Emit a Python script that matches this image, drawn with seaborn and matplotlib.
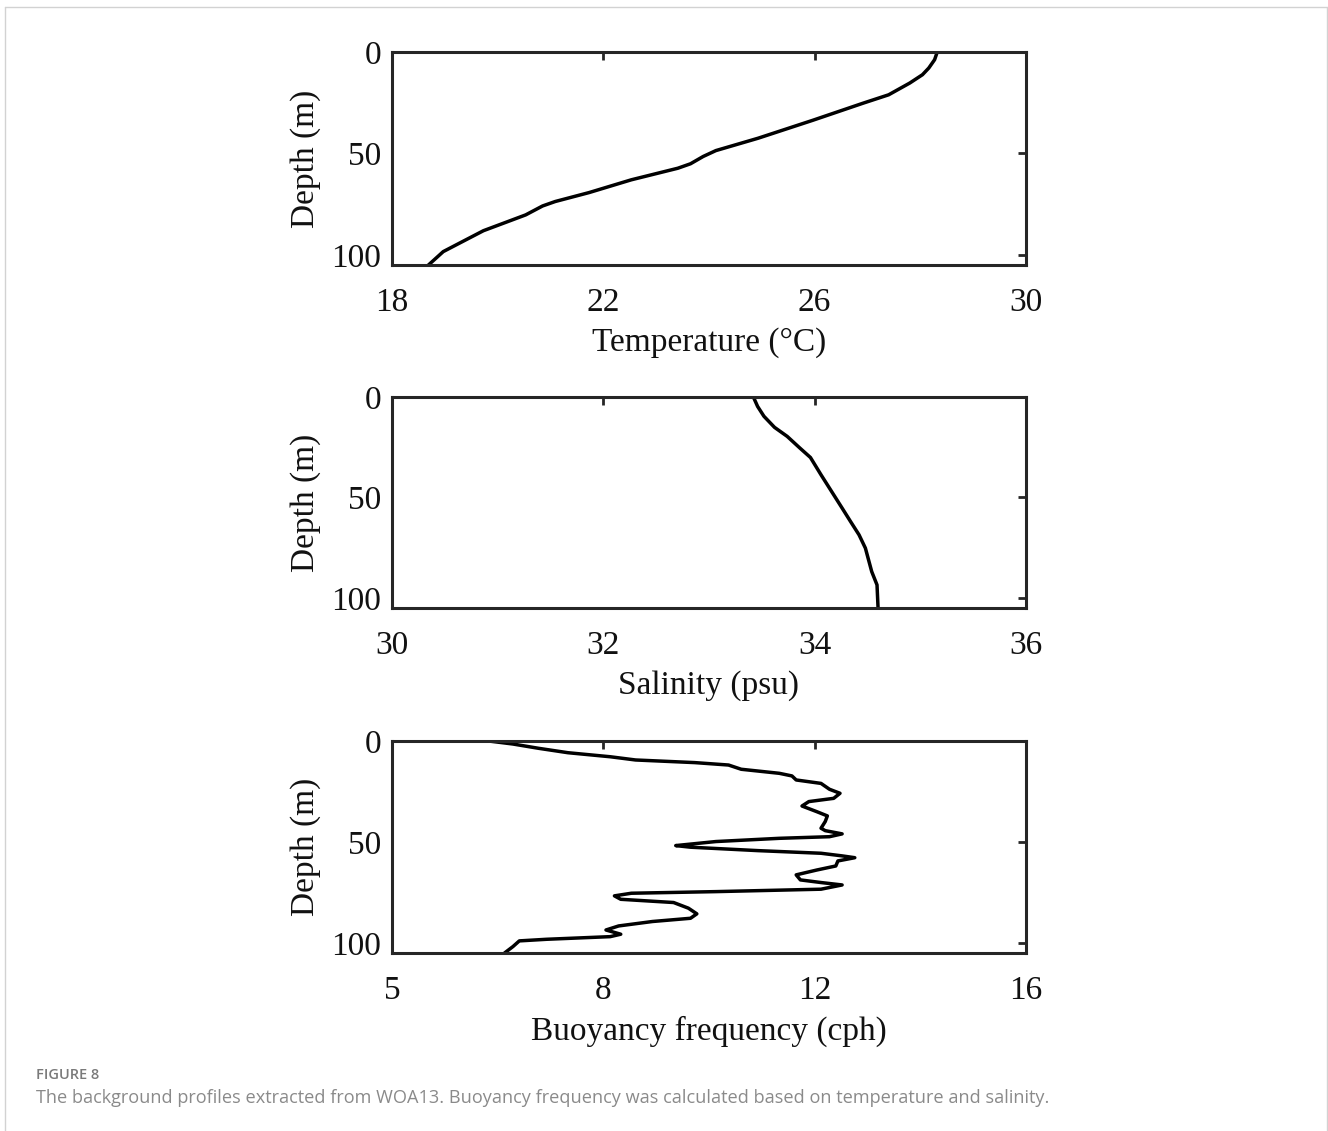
import matplotlib
matplotlib.use("Agg")
import matplotlib.pyplot as plt
import seaborn as sns
import pandas as pd
from matplotlib.lines import Line2D

# ---------------- data ----------------
temp_depth = [0, 3.8, 7.9, 11.2, 15.3, 21.1, 25.2, 33.7, 42.5, 48.6, 51.5, 55.1,
              57.3, 63.0, 69.3, 73.7, 75.9, 80.3, 88.1, 94.6, 98.4, 105]
temp_value = [28.32, 28.27, 28.16, 28.04, 27.80, 27.40, 26.92, 25.96, 24.93, 24.13,
              23.89, 23.65, 23.41, 22.53, 21.73, 21.09, 20.85, 20.53, 19.73, 19.25,
              18.97, 18.69]

sal_depth = [0, 4.7, 9.6, 15.1, 19.6, 25.4, 30.1, 38.7, 47.0, 55.3, 62.0, 68.6,
             75.2, 86.9, 93.5, 105]
sal_value = [33.42, 33.46, 33.52, 33.62, 33.74, 33.86, 33.96, 34.06, 34.16, 34.26,
             34.34, 34.42, 34.48, 34.54, 34.59, 34.60]

bf_depth = [0, 1.5, 3.6, 5.8, 7.8, 9.4, 10.7, 11.9, 14.0, 16.0, 17.3, 19.3, 21.0,
            23.9, 25.9, 28.4, 30.0, 32.2, 35.0, 37.1, 39.9, 43.2, 44.4, 46.0, 47.4,
            48.2, 49.8, 51.8, 52.6, 54.3, 55.6, 56.9, 57.8, 59.4, 61.9, 63.9, 66.3,
            68.8, 70.1, 71.3, 73.4, 74.6, 75.4, 76.7, 78.4, 80.0, 82.8, 85.6, 87.8,
            89.4, 91.6, 93.6, 95.7, 96.9, 98.2, 99.0, 101.8, 105]
bf_value = [5.83, 6.29, 6.77, 7.33, 8.13, 8.61, 9.73, 10.37, 10.61, 11.33, 11.57,
            11.65, 12.12, 12.28, 12.48, 12.36, 11.89, 11.76, 12.04, 12.24, 12.20,
            12.12, 12.20, 12.52, 12.28, 11.33, 10.13, 9.37, 9.65, 10.93, 12.12, 12.52,
            12.76, 12.44, 12.40, 12.04, 11.65, 11.73, 12.12, 12.52, 12.12, 10.13, 8.53,
            8.21, 8.33, 9.33, 9.61, 9.77, 9.65, 8.93, 8.29, 8.05, 8.33, 8.13, 6.93,
            6.41, 6.29, 6.13]

depth_ticks = [0, 50, 100]
temp_ticks = [18, 22, 26, 30]
sal_ticks = [30, 32, 34, 36]
bf_ticks = [4, 8, 12, 16]
bf_tick_labels = ["5", "8", "12", "16"]

x_labels = ["Temperature (°C)", "Salinity (psu)", "Buoyancy frequency (cph)"]
y_label = "Depth (m)"
caption_head = "FIGURE 8"
caption_text = ("The background profiles extracted from WOA13. Buoyancy frequency "
                "was calculated based on temperature and salinity.")

# ---------------- styling ----------------
sns.set_theme(style="white")
plt.rcParams["font.family"] = ["Liberation Serif", "DejaVu Serif"]

W, H = 1328, 1131
fig = plt.figure(figsize=(W / 100, H / 100), dpi=100)

# figure border (light grey frame, open at bottom)
border = "#d2d2d2"
fig.add_artist(Line2D([4.5 / W, 4.5 / W], [0, 1 - 7 / H], transform=fig.transFigure, color=border, lw=1))
fig.add_artist(Line2D([1 - 1.5 / W, 1 - 1.5 / W], [0, 1 - 7 / H], transform=fig.transFigure, color=border, lw=1))
fig.add_artist(Line2D([4.5 / W, 1 - 1.5 / W], [1 - 7 / H, 1 - 7 / H], transform=fig.transFigure, color=border, lw=1))

panels = [
    (52, 265, temp_depth, temp_value, (18, 30), temp_ticks, None),
    (397, 608, sal_depth, sal_value, (30, 36), sal_ticks, None),
    (741, 953, bf_depth, bf_value, (4, 16), bf_ticks, bf_tick_labels),
]

left_px, right_px = 392, 1026
frame_col = "#262626"
fs = 24
for (top, bot, dep, val, xlim, xt, xtl), xl in zip(panels, x_labels):
    ax = fig.add_axes([left_px / W, 1 - bot / H, (right_px - left_px) / W, (bot - top) / H])
    df = pd.DataFrame({"depth": dep, "value": val})
    sns.lineplot(data=df, x="value", y="depth", sort=False, estimator=None,
                 color="black", linewidth=2.5, ax=ax)
    ax.set_xlim(*xlim)
    ax.set_ylim(105, 0)
    ax.set_xticks(xt)
    if xtl is not None:
        ax.set_xticklabels(xtl)
    ax.set_yticks(depth_ticks)
    ax.tick_params(direction="in", top=True, right=True, length=6, width=2,
                   color=frame_col, labelsize=fs, labelcolor="#111111")
    ax.tick_params(axis="x", pad=16)
    ax.tick_params(axis="y", pad=8)
    for s in ax.spines.values():
        s.set_linewidth(2.2)
        s.set_color(frame_col)
        s.set_visible(True)
    ax.set_xlabel(xl, fontsize=fs, color="#111111", labelpad=7)
    ax.set_ylabel(y_label, fontsize=fs, color="#111111", labelpad=7)
    ax.grid(False)

fig.text(36 / W, 1 - 1079 / H, caption_head, fontsize=10.5, color="#7a7a7a",
         family=["Open Sans", "DejaVu Sans"], fontweight="semibold", va="baseline")
fig.text(36 / W, 1 - 1103 / H, caption_text,
         fontsize=13.05, color="#8a8a8a", family=["Open Sans", "DejaVu Sans"], va="baseline")

fig.savefig("out.png", dpi=100, facecolor="white")
